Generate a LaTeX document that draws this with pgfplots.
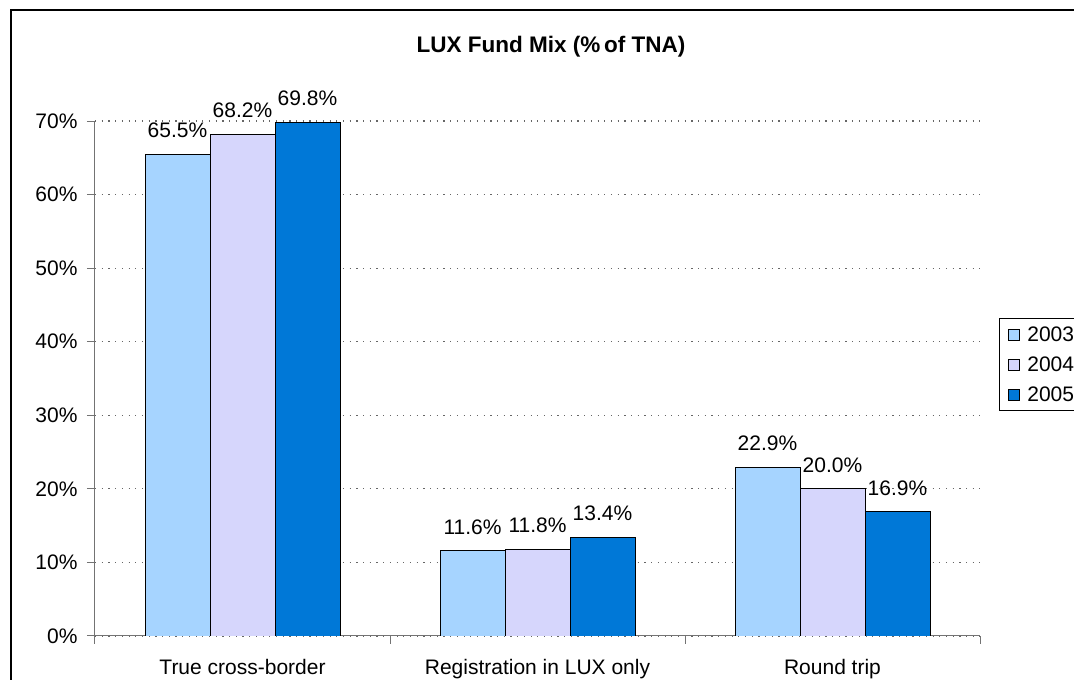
\documentclass[border=0pt]{standalone}
\usepackage{fontspec}
\setmainfont{Liberation Sans}
\usepackage{pgfplots}
\pgfplotsset{compat=1.18}
\definecolor{c2003}{RGB}{166,212,255}
\definecolor{c2004}{RGB}{214,214,252}
\definecolor{c2005}{RGB}{0,120,215}
\begin{document}
\begin{tikzpicture}[x=1pt,y=1pt]
\useasboundingbox (0,0) rectangle (1074,680);
\clip (0,0) rectangle (1074,680);
\draw[black, line width=1.3pt] (11,-20) -- (11,670) -- (1100,670);
\node[font=\fontsize{22.5}{26}\selectfont\bfseries] at (551,633) {LUX Fund Mix (\%\,of TNA)};
\begin{axis}[
  at={(95pt,44pt)}, anchor=south west,
  scale only axis, width=885pt, height=515pt,
  ybar=0pt, bar width=65pt,
  xmin=-0.5, xmax=2.5, ymin=0, ymax=70,
  axis x line*=bottom, axis y line*=left,
  axis line style={black!55, line width=1pt},
  xtick={-0.5,0.5,1.5,2.5},
  xticklabels={},
  extra x ticks={0,1,2},
  extra x tick labels={True cross-border, Registration in LUX only, Round trip},
  extra x tick style={major tick length=0pt, grid=none},
  ytick={0,10,...,70},
  yticklabel={\pgfmathprintnumber{\tick}\%},
  tick style={draw=black!55, line width=1pt},
  tick align=outside, major tick length=8pt,
  ymajorgrids,
  grid style={black!60, line width=1.2pt, dash pattern=on 1.2pt off 5.5pt},
  tick label style={font=\fontsize{21}{24}\selectfont},
  xticklabel style={yshift=-20pt},
  yticklabel style={xshift=-6pt},
  /pgf/number format/assume math mode=true,
  nodes near coords={\pgfmathprintnumber[fixed,fixed zerofill,precision=1]{\pgfplotspointmeta}\%},
  every node near coord/.append style={font=\fontsize{21}{24}\selectfont, black, inner sep=4pt, yshift=12pt},
  legend style={at={(1.0215,0.6175)}, anchor=north west, draw=black, line width=1pt,
    font=\fontsize{21}{24}\selectfont, row sep=10pt, inner xsep=8pt, inner ysep=6pt,
    nodes={inner xsep=8pt}},
  legend image code/.code={\draw[#1, line width=0.8pt] (0pt,-5.5pt) rectangle (11pt,5.5pt);},
  legend cell align=left,
]
\addplot[fill=c2003, draw=black, line width=0.8pt] coordinates {(0,65.5) (1,11.6) (2,22.9)};
\addlegendentry{2003}
\addplot[fill=c2004, draw=black, line width=0.8pt] coordinates {(0,68.2) (1,11.8) (2,20.0)};
\addlegendentry{2004}
\addplot[fill=c2005, draw=black, line width=0.8pt] coordinates {(0,69.8) (1,13.4) (2,16.9)};
\addlegendentry{2005}
\end{axis}
\end{tikzpicture}
\end{document}
